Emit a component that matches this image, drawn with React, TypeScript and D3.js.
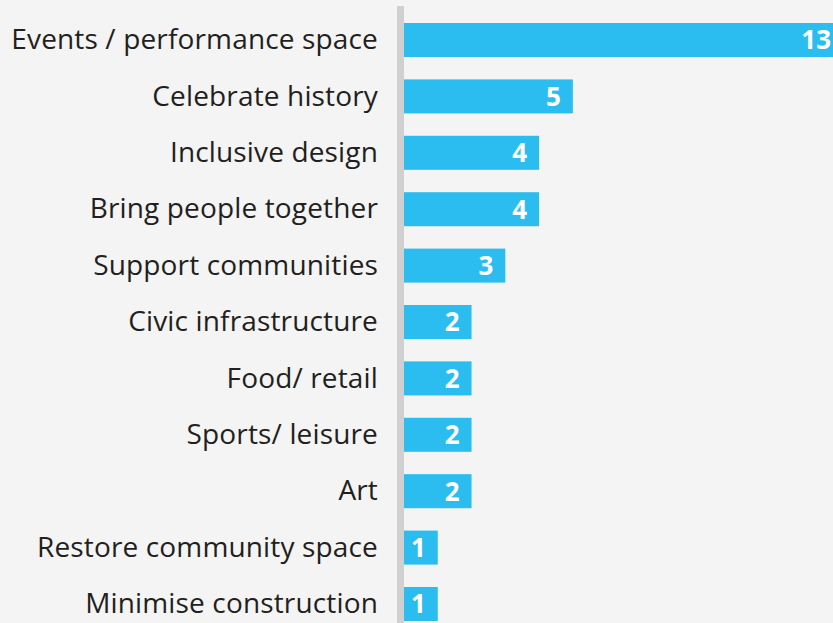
import React from "react";
import * as d3 from "d3";

const categories: string[] = [
  "Events / performance space",
  "Celebrate history",
  "Inclusive design",
  "Bring people together",
  "Support communities",
  "Civic infrastructure",
  "Food/ retail",
  "Sports/ leisure",
  "Art",
  "Restore community space",
  "Minimise construction",
];
const values: number[] = [13, 5, 4, 4, 3, 2, 2, 2, 2, 1, 1];

const W = 833;
const H = 623;
const BG = "#f3f4f3";
const BAR = "#2bbdef";
const AXIS = "#d0d0d0";
const TEXT = "#231f20";
const FONT = "'Open Sans', 'Noto Sans', sans-serif";

export default function App() {
  const x = d3.scaleLinear().domain([0, 13]).range([404, 843]);
  const y = d3
    .scaleBand<string>()
    .domain(categories)
    .range([23, 621])
    .paddingInner(0.397)
    .paddingOuter(0);

  return (
    <svg
      width={W}
      height={H}
      style={{ position: "absolute", left: 0, top: 0, display: "block" }}
    >
      <rect x={0} y={0} width={W} height={H} fill={BG} />
      <rect x={397} y={6} width={7} height={H - 6} fill={AXIS} />
      {categories.map((c, i) => {
        const y0 = y(c) as number;
        const bw = y.bandwidth();
        const cy = y0 + bw / 2;
        return (
          <g key={c}>
            <rect
              x={x(0)}
              y={y0}
              width={x(values[i]) - x(0)}
              height={bw}
              fill={BAR}
            />
            <text
              x={378}
              y={cy}
              dy="0.33em"
              textAnchor="end"
              fontFamily={FONT}
              fontSize={28}
              letterSpacing={0.15}
              fill={TEXT}
            >
              {c}
            </text>
            <text
              x={x(values[i]) - 12}
              y={cy}
              dy="0.36em"
              textAnchor="end"
              fontFamily={FONT}
              fontWeight={700}
              fontSize={26}
              fill="#ffffff"
            >
              {values[i]}
            </text>
          </g>
        );
      })}
    </svg>
  );
}
